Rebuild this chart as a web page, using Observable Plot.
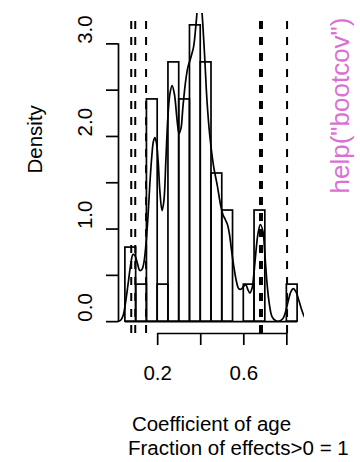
<!DOCTYPE html>
<html>
<head>
<meta charset="utf-8">
<script src="https://cdn.jsdelivr.net/npm/d3@7"></script>
<script src="https://cdn.jsdelivr.net/npm/@observablehq/plot@0.6"></script>
<style>
  html, body { margin: 0; padding: 0; background: #fff; }
  #chart svg { display: block; }
</style>
</head>
<body>
<div id="chart"></div>
<script>
// Histogram bins (left edges) and density heights
const binStart = [0.05, 0.10, 0.15, 0.20, 0.25, 0.30, 0.35, 0.40, 0.45, 0.50, 0.55, 0.60, 0.65, 0.70, 0.75, 0.80];
const binWidth = 0.05;
const binDensity = [0.8, 0.4, 2.4, 0.4, 2.8, 2.4, 3.2, 2.8, 1.6, 1.2, 0, 0.4, 1.2, 0, 0, 0.4];

// Kernel density curve
const curveX = [0.008, 0.019, 0.031, 0.041, 0.050, 0.064, 0.076, 0.085, 0.094, 0.106, 0.117, 0.127, 0.136, 0.145, 0.155, 0.164, 0.173, 0.180, 0.187, 0.194, 0.202, 0.210, 0.220, 0.229, 0.238, 0.247, 0.257, 0.267, 0.278, 0.289, 0.299, 0.308, 0.317, 0.329, 0.340, 0.354, 0.367, 0.377, 0.386, 0.395, 0.403, 0.410, 0.418, 0.429, 0.442, 0.460, 0.477, 0.491, 0.503, 0.514, 0.524, 0.533, 0.542, 0.553, 0.566, 0.576, 0.589, 0.600, 0.610, 0.619, 0.628, 0.638, 0.647, 0.656, 0.666, 0.677, 0.689, 0.698, 0.708, 0.719, 0.731, 0.747, 0.765, 0.782, 0.793, 0.807, 0.819, 0.830, 0.842, 0.856, 0.870, 0.881, 0.891];
const curveY = [0.002, 0.004, 0.023, 0.077, 0.195, 0.433, 0.638, 0.725, 0.714, 0.627, 0.552, 0.563, 0.638, 0.822, 1.135, 1.502, 1.794, 1.945, 1.988, 1.934, 1.740, 1.416, 1.200, 1.308, 1.740, 2.193, 2.463, 2.550, 2.453, 2.204, 2.031, 2.085, 2.312, 2.582, 2.744, 2.852, 2.971, 3.187, 3.414, 3.554, 3.414, 3.200, 2.874, 2.388, 2.010, 1.675, 1.470, 1.275, 1.157, 1.103, 1.049, 0.951, 0.789, 0.606, 0.433, 0.357, 0.352, 0.384, 0.395, 0.347, 0.309, 0.357, 0.519, 0.746, 0.951, 1.049, 0.973, 0.725, 0.411, 0.185, 0.055, 0.012, 0.006, 0.033, 0.098, 0.228, 0.325, 0.357, 0.325, 0.228, 0.120, 0.055, 0.023];

// Dashed reference lines
const vLines = [0.0772, 0.0958, 0.1461, 0.6752, 0.6845, 0.8010];

// Axis ticks and labels
const xTicks = [0.2, 0.4, 0.6, 0.8];
const xLabelVals = [0.2, 0.6];
const xLabelText = ["0.2", "0.6"];
const yTicks = [0, 0.5, 1.0, 1.5, 2.0, 2.5, 3.0];
const yLabelVals = [0, 1, 2, 3];
const yLabelText = ["0.0", "1.0", "2.0", "3.0"];

const xTitle = "Coefficient of age";
const xSub = "Fraction of effects>0 = 1";
const yTitle = "Density";
const sideNote = 'help("bootcov")';

// R-style 4% range extension
const xRange = [binStart[0], binStart[binStart.length - 1] + binWidth];
const yRange = [0, d3.max(binDensity)];
const ext = (r) => { const d = (r[1] - r[0]) * 0.04; return [r[0] - d, r[1] + d]; };
const usrX = ext(xRange);
const usrY = ext(yRange);

const bins = binStart.map((s, i) => ({x1: s, x2: s + binWidth, y: binDensity[i]}));
const curve = curveX.map((x, i) => ({x, y: curveY[i]}));
const xLabels = xLabelVals.map((v, i) => ({v, t: xLabelText[i]}));
const yLabels = yLabelVals.map((v, i) => ({v, t: yLabelText[i]}));

const font = "Liberation Sans, Arial, Helvetica, sans-serif";
const fs = 20.5;
const lw = 1.7;

const chart = Plot.plot({
  width: 360,
  height: 462,
  marginLeft: 118,
  marginRight: 56,
  marginTop: 13,
  marginBottom: 129,
  x: {domain: usrX, axis: null},
  y: {domain: usrY, axis: null},
  style: {fontFamily: font, background: "white", color: "black", overflow: "visible"},
  marks: [
    // histogram
    Plot.rect(bins, {x1: "x1", x2: "x2", y1: 0, y2: "y", fill: "none", stroke: "black", strokeWidth: lw}),
    Plot.ruleY([0], {x1: xRange[0], x2: xRange[1], stroke: "black", strokeWidth: lw}),
    // dashed lines
    Plot.ruleX(vLines, {x: d => d, stroke: "black", strokeWidth: 2, strokeDasharray: "8,8", strokeDashoffset: 8}),
    // density curve
    Plot.line(curve, {x: "x", y: "y", curve: "catmull-rom", stroke: "black", strokeWidth: lw, clip: true}),
    // axes
    Plot.ruleY([usrY[0]], {x1: xTicks[0], x2: xTicks[xTicks.length - 1], stroke: "black", strokeWidth: lw}),
    Plot.ruleX([usrX[0]], {y1: yTicks[0], y2: yTicks[yTicks.length - 1], stroke: "black", strokeWidth: lw}),
    Plot.axisX(xTicks, {tickSize: 12, tickFormat: () => "", label: null, strokeWidth: lw}),
    Plot.axisY(yTicks, {tickSize: 12, tickFormat: () => "", label: null, strokeWidth: lw}),
    Plot.text(xLabels, {x: "v", text: "t", frameAnchor: "bottom", dy: 46, lineAnchor: "bottom", fontSize: fs}),
    Plot.text(yLabels, {y: "v", text: "t", frameAnchor: "left", dx: -26.5, rotate: -90, lineAnchor: "bottom", fontSize: fs}),
    // titles
    Plot.text([xTitle], {frameAnchor: "bottom", dy: 97.5, lineAnchor: "bottom", fontSize: fs}),
    Plot.text([xSub], {frameAnchor: "bottom-left", dx: 9.5, dy: 121.5, textAnchor: "start", lineAnchor: "bottom", fontSize: fs}),
    Plot.text([yTitle], {frameAnchor: "left", dx: -77, rotate: -90, lineAnchor: "bottom", fontSize: fs}),
    Plot.text([sideNote], {frameAnchor: "top-right", dx: 44, dy: 4, rotate: -90, textAnchor: "end", lineAnchor: "bottom", fontSize: 26, fill: "orchid"})
  ]
});
document.getElementById("chart").appendChild(chart);
</script>
</body>
</html>
